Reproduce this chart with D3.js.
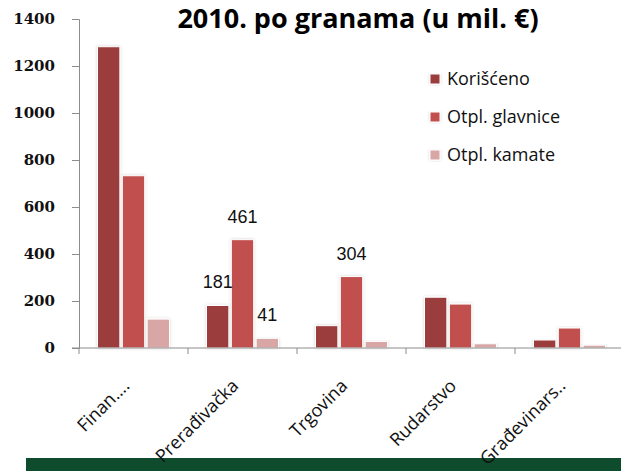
<!DOCTYPE html>
<html>
<head>
<meta charset="utf-8">
<script src="https://cdn.jsdelivr.net/npm/d3@7"></script>
<style>
  body { margin: 0; background: #fff; }
  svg { display: block; }
</style>
</head>
<body>
<svg width="621" height="471"></svg>
<script>
// data
const categories = ["Finan....", "Prerađivačka", "Trgovina", "Rudarstvo", "Građevinars.."];
const series = ["Korišćeno", "Otpl. glavnice", "Otpl. kamate"];
const korisceno = [1282, 181, 95, 216, 34];
const glavnice = [733, 461, 304, 187, 85];
const kamate = [123, 41, 28, 18, 12];
const yTicks = [0, 200, 400, 600, 800, 1000, 1200, 1400];
// only these bars carry a value label
const labelled = [[1, 0], [1, 1], [1, 2], [2, 1]];

const colors = ["#9b3d3d", "#c0504d", "#d9a6a6"];
const values = [korisceno, glavnice, kamate];

const svg = d3.select("svg");

const defs = svg.append("defs");
const f = defs.append("filter").attr("id", "sh").attr("x", "-30%").attr("y", "-10%")
    .attr("width", "160%").attr("height", "130%");
f.append("feDropShadow").attr("dx", 0).attr("dy", 0).attr("stdDeviation", 1.6)
    .attr("flood-color", "#000").attr("flood-opacity", 0.18);

const x = d3.scaleBand().domain(categories).range([79, 624]);
const xs = d3.scaleBand().domain(series).range([18.5, 90.5]).paddingInner(0.1);
const y = d3.scaleLinear().domain([0, 1400]).range([348, 19]);

// green strip at the bottom
svg.append("rect").attr("x", 26).attr("y", 458).attr("width", 600).attr("height", 13)
    .attr("fill", "#0f4c2e");

// title
svg.append("text").attr("x", 358).attr("y", 28).attr("text-anchor", "middle")
    .style("font-family", "'Open Sans', sans-serif").style("font-weight", "bold")
    .style("font-size", "27px").text("2010. po granama (u mil. €)");

// bars
categories.forEach(function(c, i) {
    series.forEach(function(s, j) {
        svg.append("rect")
            .attr("x", x(c) + xs(s))
            .attr("y", y(values[j][i]))
            .attr("width", xs.bandwidth())
            .attr("height", y(0) - y(values[j][i]))
            .attr("fill", colors[j])
            .attr("stroke", "#fff").attr("stroke-width", 1)
            .attr("filter", "url(#sh)");
    });
});

// y axis
const yAxis = svg.append("g").attr("transform", "translate(79,0)")
    .call(d3.axisLeft(y).tickValues(yTicks).tickFormat(d3.format("d")).tickSize(7).tickPadding(17));
yAxis.select(".domain").attr("stroke", "#8c8c8c");
yAxis.selectAll(".tick line").attr("stroke", "#8c8c8c");
yAxis.selectAll("text").style("font-family", "'DejaVu Serif', serif").style("font-weight", "bold")
    .style("font-size", "15px").attr("fill", "#111");

// x axis line with category ticks
const xAxis = svg.append("g").attr("transform", "translate(0,348)");
xAxis.append("line").attr("x1", 72).attr("x2", 621).attr("stroke", "#8c8c8c");
xAxis.selectAll(".xt").data(categories.concat(["end"])).enter().append("line")
    .attr("x1", function(d, i) { return 79 + i * x.step(); })
    .attr("x2", function(d, i) { return 79 + i * x.step(); })
    .attr("y1", 0).attr("y2", 6).attr("stroke", "#8c8c8c");

// rotated category labels, text end at the category centre
svg.selectAll(".xl").data(categories).enter().append("text")
    .attr("transform", function(d) {
        return "translate(" + (x(d) + x.bandwidth() / 2 - 3) + ",387) rotate(-45)";
    })
    .attr("text-anchor", "end")
    .style("font-family", "'Open Sans', sans-serif").style("font-size", "18px").attr("fill", "#111")
    .text(function(d) { return d; });

// value labels
labelled.forEach(function(p) {
    const c = categories[p[0]], s = series[p[1]];
    svg.append("text")
        .attr("x", x(c) + xs(s) + xs.bandwidth() / 2)
        .attr("y", y(values[p[1]][p[0]]) - 17)
        .attr("text-anchor", "middle")
        .style("font-family", "'Liberation Sans', sans-serif").style("font-size", "18px")
        .attr("fill", "#111").text(values[p[1]][p[0]]);
});

// legend
const lg = svg.append("g").attr("transform", "translate(430,79)");
series.forEach(function(s, j) {
    lg.append("rect").attr("x", 0).attr("y", j * 38 - 5).attr("width", 10).attr("height", 10)
        .attr("fill", colors[j]).attr("stroke", "#fff").attr("filter", "url(#sh)");
    lg.append("text").attr("x", 17).attr("y", j * 38 + 6)
        .style("font-family", "'Open Sans', sans-serif").style("font-size", "18px").attr("fill", "#111")
        .text(s);
});
</script>
</body>
</html>
